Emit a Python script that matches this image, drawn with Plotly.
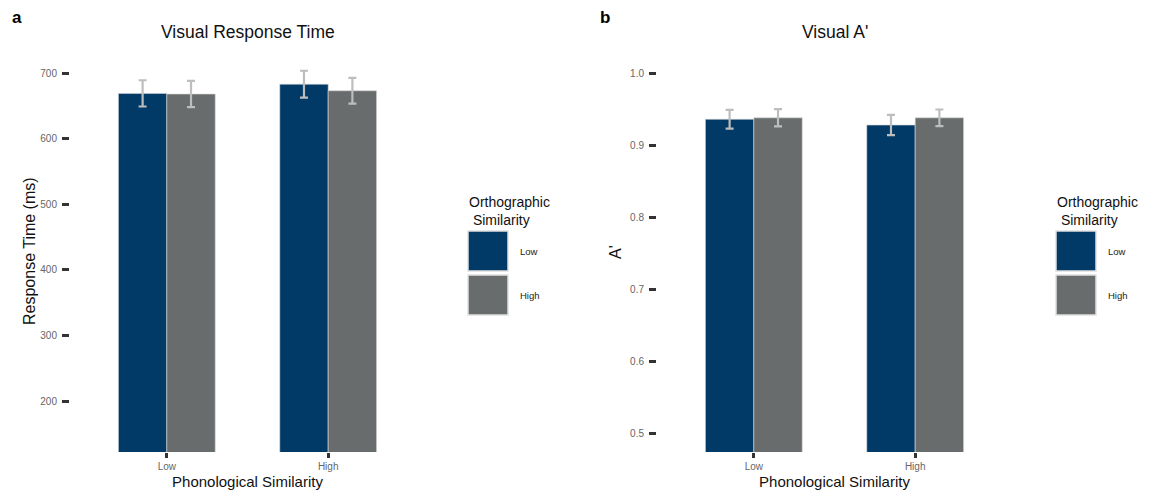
import plotly.graph_objects as go

# ---- data ----
phon_categories = ["Low", "High"]
ortho_levels = ["Low", "High"]

rt_ortho_low = [669, 683]
rt_ortho_high = [668, 673]
rt_err_low = [20, 20.5]
rt_err_high = [20, 19.5]

ap_ortho_low = [0.936, 0.928]
ap_ortho_high = [0.938, 0.938]
ap_err_low = [0.013, 0.014]
ap_err_high = [0.012, 0.0115]

rt_ticks = [200, 300, 400, 500, 600, 700]
ap_ticks = [0.5, 0.6, 0.7, 0.8, 0.9, 1.0]

BLUE = "#013a66"
GREY = "#696c6c"
ERR = "#bdbdbd"
OFF = 8  # page body margin
W, H = 1155 - OFF, 500 - OFF
FONT = "Liberation Sans, Arial, sans-serif"

fig = go.Figure()

def add_pair(low, high, elow, ehigh, xa, ya):
    for vals, errs, col in [(low, elow, BLUE), (high, ehigh, GREY)]:
        fig.add_trace(go.Bar(
            x=phon_categories, y=vals, xaxis=xa, yaxis=ya,
            marker=dict(color=col, line=dict(color="#d9d9d9", width=0.6)),
            error_y=dict(type="data", array=errs, color=ERR, thickness=2.2, width=4),
            showlegend=False, hoverinfo="y",
        ))

add_pair(rt_ortho_low, rt_ortho_high, rt_err_low, rt_err_high, "x", "y")
add_pair(ap_ortho_low, ap_ortho_high, ap_err_low, ap_err_high, "x2", "y2")

def px(x):
    return (x - OFF) / W

def py(y):
    return 1 - (y - OFF) / H

tickfont = dict(family=FONT, size=10, color="#666666")
titlefont = dict(family=FONT, size=15, color="#111111")
ytitlefont = dict(family=FONT, size=16, color="#111111")

common_x = dict(type="category", range=[-0.6, 1.6], showgrid=False, zeroline=False,
                showline=False, ticks="outside", ticklen=5, tickwidth=2.5, tickcolor="#333333",
                tickfont=tickfont, title=dict(text="Phonological Similarity", font=titlefont, standoff=5))
common_y = dict(showgrid=False, zeroline=False, showline=False, ticks="outside", ticklen=7,
                tickwidth=2.5, tickcolor="#333333", tickfont=tickfont, ticklabelstandoff=3)

fig.update_layout(
    width=W, height=H, margin=dict(l=0, r=0, t=0, b=0),
    paper_bgcolor="white", plot_bgcolor="white",
    barmode="group", bargap=0.4, bargroupgap=0,
    font=dict(family=FONT),
    xaxis=dict(domain=[px(70), px(425)], anchor="y", **common_x),
    xaxis2=dict(domain=[px(657), px(1012)], anchor="y2", **common_x),
    yaxis=dict(domain=[py(452), py(55)], anchor="x", range=[122.5, 727.5], tickvals=rt_ticks, **common_y),
    yaxis2=dict(domain=[py(452), py(55)], anchor="x2", range=[0.475, 1.025], tickvals=ap_ticks,
                tickformat=".1f", **common_y),
)

annotations = [
    dict(text="<b>a</b>", x=px(10), y=py(18), xanchor="left", yanchor="middle",
         font=dict(family=FONT, size=17, color="black")),
    dict(text="<b>b</b>", x=px(598), y=py(18), xanchor="left", yanchor="middle",
         font=dict(family=FONT, size=17, color="black")),
    dict(text="Visual Response Time", x=px(247.5), y=py(32), xanchor="center", yanchor="middle",
         font=dict(family=FONT, size=17.5, color="#111111")),
    dict(text="Visual A'", x=px(834.5), y=py(32), xanchor="center", yanchor="middle",
         font=dict(family=FONT, size=17.5, color="#111111")),
    dict(text="Response Time (ms)", x=px(29), y=py(251), xanchor="center", yanchor="middle",
         textangle=-90, font=ytitlefont),
    dict(text="A'", x=px(616), y=py(252), xanchor="center", yanchor="middle",
         textangle=-90, font=ytitlefont),
]
shapes = []
for lx in [467, 1055]:
    annotations.append(dict(text="Orthographic<br> Similarity", x=px(lx), y=py(192), xanchor="left",
                            yanchor="top", align="left",
                            font=dict(family=FONT, size=14, color="#111111")))
    for i, (lab, col) in enumerate(zip(ortho_levels, [BLUE, GREY])):
        y0 = 231 + i * 44
        shapes.append(dict(type="rect", xref="paper", yref="paper",
                           x0=px(lx + 1), x1=px(lx + 41), y0=py(y0 + 40), y1=py(y0),
                           fillcolor=col, line=dict(color="#e0e0e0", width=1.5)))
        annotations.append(dict(text=lab, x=px(lx + 51), y=py(y0 + 20), xanchor="left",
                                yanchor="middle", font=dict(family=FONT, size=9.5, color="#222222")))

for a in annotations:
    a.update(xref="paper", yref="paper", showarrow=False)
fig.update_layout(annotations=annotations, shapes=shapes)

fig.write_html("out.html")
